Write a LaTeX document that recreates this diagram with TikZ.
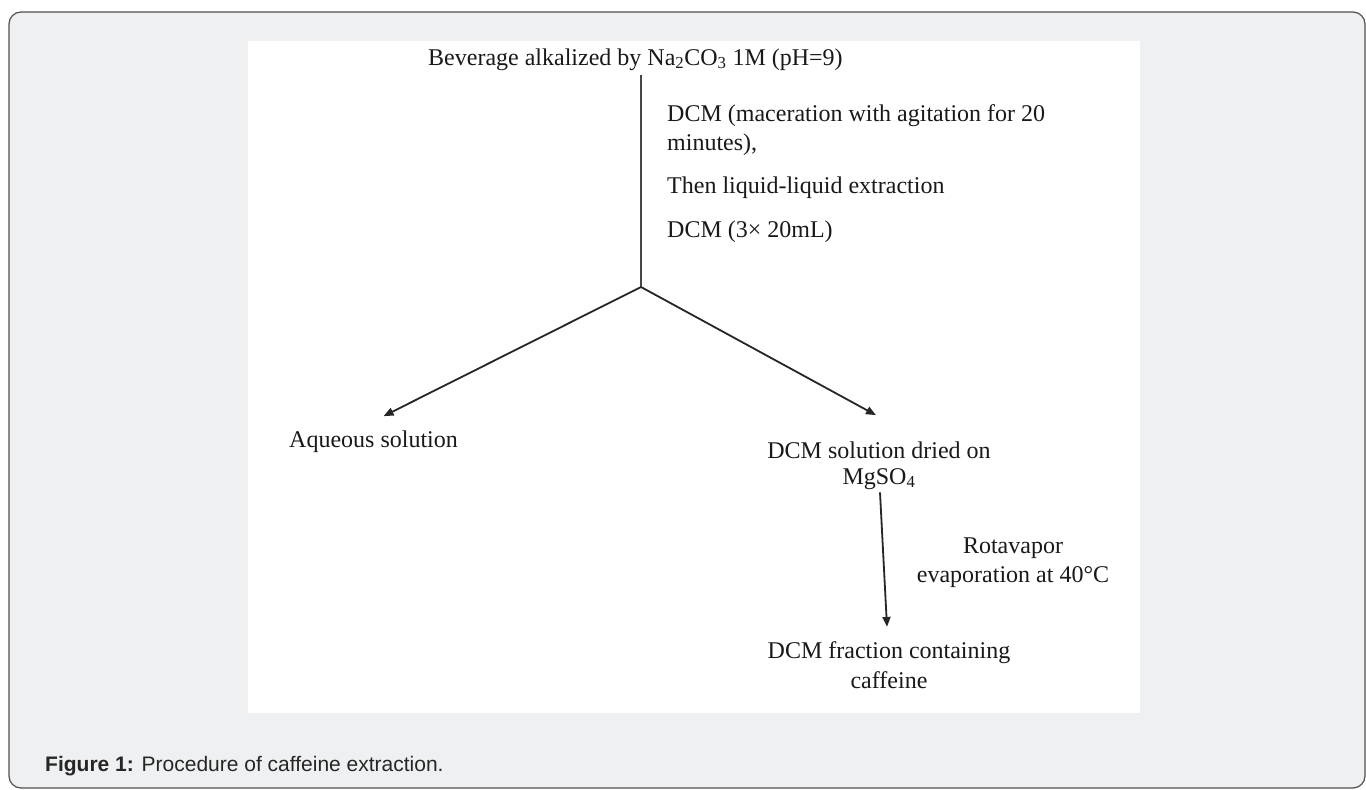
\documentclass[tikz,border=0pt]{standalone}
\usepackage{fontspec}
\setmainfont{Liberation Serif}
\newfontfamily\capfont{Liberation Sans}
\usetikzlibrary{arrows.meta}
\definecolor{panelgray}{HTML}{EFF0F2}
\definecolor{framegray}{HTML}{505050}
\definecolor{inkgray}{HTML}{262626}

\begin{document}
\begin{tikzpicture}[x=1pt,y=-1pt]
            \useasboundingbox (0,0) rectangle (1366,790);
            \draw[framegray, fill=panelgray, line width=1.2pt, rounded corners=12pt] (9,12) rectangle (1365,788);
            \fill[white] (248,41) rectangle (1140,713);

            \begin{scope}[
                    every node/.style={inner sep=0pt, text=black!90, font=\fontsize{24}{29}\selectfont},
                    every edge/.style={draw=inkgray, line width=1.8pt, -{Triangle[length=10pt,width=8pt]}}
                ]

                \node[anchor=base west] (bev) at (428,65) {Beverage alkalized by Na\textsubscript{2}CO\textsubscript{3} 1M (pH=9)};
                \node[anchor=base west, align=left] (mac) at (667,150) {DCM (maceration with agitation for 20\\minutes),};
                \node[anchor=base west] (liq) at (667,193) {Then liquid-liquid extraction};
                \node[anchor=base west] (dcm) at (667,237) {DCM (3× 20mL)};

                \node[anchor=base west] (aq) at (289,447) {Aqueous solution};
                \node[anchor=base, align=center] (dry) at (879,484) {DCM solution dried on\\[-3pt]MgSO\textsubscript{4}};
                \node[anchor=base, align=center] (rota) at (1013,582) {Rotavapor\\evaporation at 40°C};
                \node[anchor=base, align=center] (frac) at (889,688) {DCM fraction containing\\[1pt]caffeine};

                \coordinate (top) at (641,75);
                \coordinate (split) at (641,287);

                % \draw (split) edge (aq);
                \draw[draw=inkgray!85, line width=1.3pt] (top) -- (split);
                \draw (split) edge ([xshift=10pt,yshift=14pt]aq.north);
                \draw (split) edge ([xshift=-3pt,yshift=26pt]dry.north);
                \draw ([xshift=1pt,yshift=-3pt]dry.south) edge ([xshift=-2pt,yshift=14pt]frac.north);
            \end{scope}

            \node[anchor=base west, inner sep=0pt, text=black!85, font=\capfont\fontsize{21}{25}\selectfont] (cap) at (45,771) {\textbf{Figure 1:} Procedure of caffeine extraction.};
        \end{tikzpicture}
\end{document}
